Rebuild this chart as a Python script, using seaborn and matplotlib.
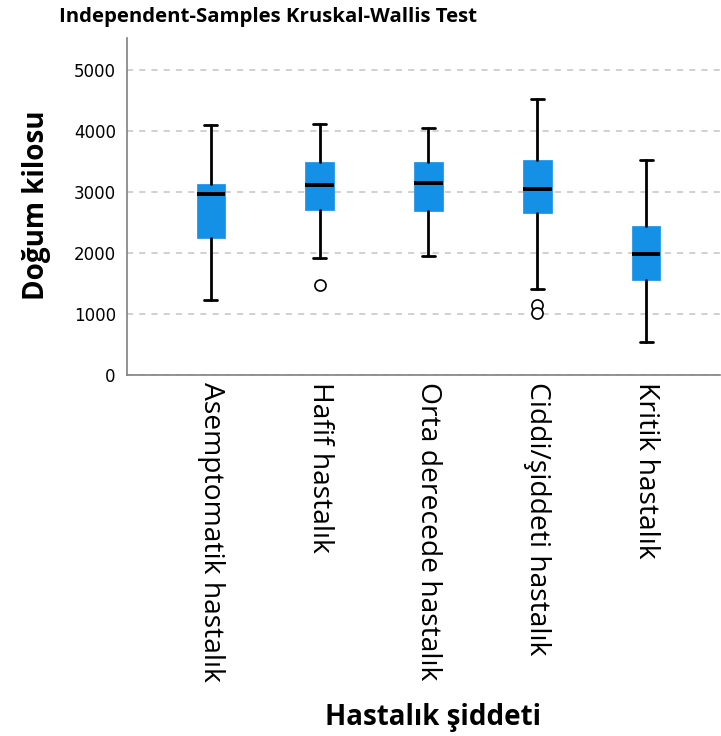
import matplotlib
matplotlib.use("Agg")
import matplotlib.pyplot as plt
import seaborn as sns

# Box summaries (Doğum kilosu by Hastalık şiddeti)
categories = ["Asemptomatik hastalık", "Hafif hastalık", "Orta derecede hastalık",
              "Ciddi/şiddeti hastalık", "Kritik hastalık"]
whisker_low = [1225, 1920, 1955, 1405, 545]
q1 = [2250, 2705, 2685, 2655, 1555]
median = [2970, 3125, 3145, 3055, 1985]
q3 = [3140, 3495, 3495, 3535, 2445]
whisker_high = [4100, 4115, 4060, 4530, 3520]
outliers = [[], [1475], [], [1150, 1010], []]

yticks = [0, 1000, 2000, 3000, 4000, 5000]

sns.set_theme(style="white")
plt.rcParams["font.family"] = ["Open Sans", "DejaVu Sans"]
plt.rcParams["text.color"] = "black"

box_color = "#1490e6"

stats = []
for i, name in enumerate(categories):
    stats.append({
        "label": name,
        "whislo": whisker_low[i],
        "q1": q1[i],
        "med": median[i],
        "q3": q3[i],
        "whishi": whisker_high[i],
        "fliers": outliers[i],
    })

fig = plt.figure(figsize=(7.21, 7.36), dpi=100)
ax = fig.add_axes([0.176, 0.4905, 0.823, 0.4575])

ax.bxp(
    stats,
    positions=range(len(categories)),
    widths=0.26,
    patch_artist=True,
    boxprops=dict(facecolor=box_color, edgecolor=box_color, linewidth=0.5),
    medianprops=dict(color="black", linewidth=2.8, solid_capstyle="butt"),
    whiskerprops=dict(color="black", linewidth=2),
    capprops=dict(color="black", linewidth=2),
    capwidths=0.12,
    flierprops=dict(marker="o", markerfacecolor="white", markeredgecolor="black",
                    markersize=8, markeredgewidth=1.2),
    zorder=3,
)

ax.set_ylim(0, 5525)
ax.set_xlim(-0.77, 4.68)
ax.set_yticks(yticks)
ax.set_yticklabels([str(t) for t in yticks], fontsize=12, color="black",
                   family="DejaVu Sans")
ax.yaxis.grid(True, linestyle=(0, (4, 4)), color="#c4c4c4", linewidth=1.1, zorder=0)
ax.xaxis.grid(False)
ax.tick_params(axis="y", length=0, pad=8)

ax.set_xticks(range(len(categories)))
ax.set_xticklabels(categories, rotation=-90, fontsize=20.3, ha="center", va="top",
                   color="black")
ax.tick_params(axis="x", length=0, pad=5)

for side in ["top", "right"]:
    ax.spines[side].set_visible(False)
for side in ["left", "bottom"]:
    ax.spines[side].set_color("#808080")
    ax.spines[side].set_linewidth(1.2)

fig.text(0.051, 0.7215, "Doğum kilosu", fontsize=20, fontweight="bold",
         rotation=90, ha="center", va="center")
fig.text(0.600, 0.0245, "Hastalık şiddeti", fontsize=20, fontweight="bold",
         ha="center", va="center")
fig.text(0.372, 0.977, "Independent-Samples Kruskal-Wallis Test", fontsize=14.7,
         fontweight="bold", ha="center", va="center")

fig.savefig("out.png", dpi=100)
